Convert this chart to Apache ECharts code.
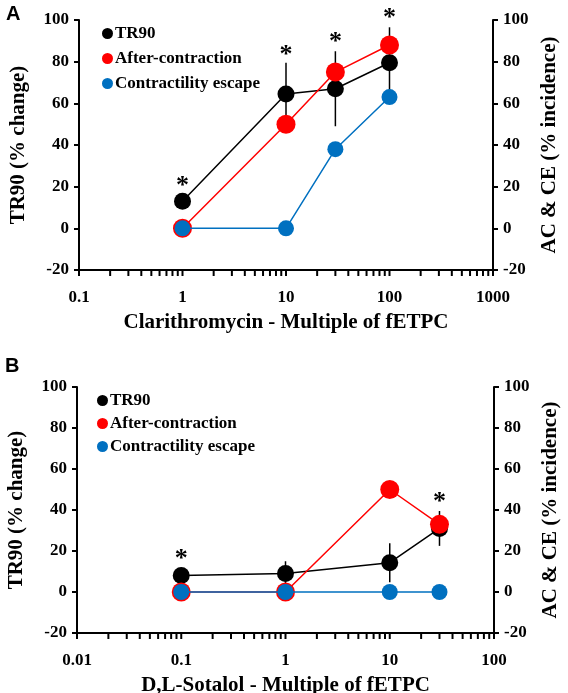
<!DOCTYPE html>
<html>
<head>
<meta charset="utf-8">
<script src="https://cdn.jsdelivr.net/npm/echarts@6/dist/echarts.min.js"></script>
<style>
html,body{margin:0;padding:0;background:#fff;}
#chart{width:568px;height:693px;}
</style>
</head>
<body>
<div id="chart"></div>
<script>
// ---- Data: panel A (Clarithromycin) ----
const concA = [1, 10, 30, 100];
const tr90A = [13, 64.5, 67, 79.5];
const tr90ErrA = [3, 15, 18, 17];
const acA = [0, 50, 75, 88];
const ceA = [0, 0, 38, 63];
const starXA = [1, 10, 30, 100];
const starYA = [20, 83, 89.5, 101];
const xTickLabelsA = ['0.1', '1', '10', '100', '1000'];

// ---- Data: panel B (D,L-Sotalol) ----
const concB = [0.1, 1, 10, 30];
const tr90B = [8, 9, 14.3, 31];
const tr90ErrB = [2, 6, 9.5, 8.5];
const acB = [0, 0, 50, 33];
const ceB = [0, 0, 0, 0];
const starXB = [0.1, 30];
const starYB = [16, 44];
const xTickLabelsB = ['0.01', '0.1', '1', '10', '100'];

const yMin = -20, yMax = 100, yStep = 20;
const minorMultipliers = [1, 2, 3, 4, 5, 6, 7, 8, 9];
const decadesA = [0.1, 1, 10, 100, 1000];
const decadesB = [0.01, 0.1, 1, 10, 100];

const names = ['TR90', 'After-contraction', 'Contractility escape'];
const BLACK = '#000000', RED = '#ff0000', BLUE = '#0070c0';
const SERIF = '"Liberation Serif", "Times New Roman", serif';

function zip(xs, ys) { return xs.map((x, i) => [x, ys[i]]); }
function errData(xs, ys, es) { return xs.map((x, i) => [x, ys[i] - es[i], ys[i] + es[i]]); }
function tickValues(decades) {
  const out = [];
  decades.forEach((d, k) => {
    if (k === decades.length - 1) { out.push(d); return; }
    minorMultipliers.forEach(m => out.push(+(d * m).toPrecision(6)));
  });
  return out;
}

function xAxisCfg(idx, min, max, labels, title) {
  return {
    type: 'log', logBase: 10, gridIndex: idx, min: min, max: max,
    name: title, nameLocation: 'middle', nameGap: 42,
    nameTextStyle: { fontFamily: SERIF, fontWeight: 'bold', fontSize: 21, color: '#000' },
    axisLine: { onZero: false, lineStyle: { color: '#000', width: 2 } },
    axisTick: { show: false },
    axisLabel: {
      fontFamily: SERIF, fontWeight: 'bold', fontSize: 17, color: '#000', margin: 19,
      formatter: (v, i) => labels[i] !== undefined ? labels[i] : ''
    },
    splitLine: { show: false }, minorTick: { show: false }
  };
}
function yAxisCfg(idx, pos, title) {
  return {
    type: 'value', gridIndex: idx, position: pos, min: yMin, max: yMax, interval: yStep,
    name: title, nameLocation: 'middle', nameRotate: 90, nameGap: pos === 'left' ? 50 : 34,
    nameTextStyle: { fontFamily: SERIF, fontWeight: 'bold', fontSize: 21, color: '#000' },
    axisLine: { show: true, onZero: false, lineStyle: { color: '#000', width: 2 } },
    axisTick: { show: true, length: 5, lineStyle: { color: '#000', width: 2 } },
    axisLabel: { fontFamily: SERIF, fontWeight: 'bold', fontSize: 17, color: '#000', margin: 10 },
    splitLine: { show: false }
  };
}

function panelSeries(p, conc, tr90, err, ac, ce, sx, sy) {
  const xi = p, yl = p * 2, yr = p * 2 + 1;
  return [
    { type: 'custom', xAxisIndex: xi, yAxisIndex: yl, z: 2, silent: true,
      data: errData(conc, tr90, err),
      renderItem: (params, api) => {
        const a = api.coord([api.value(0), api.value(1)]);
        const b = api.coord([api.value(0), api.value(2)]);
        return { type: 'line', shape: { x1: a[0], y1: a[1], x2: b[0], y2: b[1] },
          style: { stroke: '#000', lineWidth: 1.5 } };
      } },
    { name: names[0], type: 'line', xAxisIndex: xi, yAxisIndex: yl, z: 3,
      data: zip(conc, tr90), symbol: 'circle', symbolSize: 17, showAllSymbol: true,
      lineStyle: { color: BLACK, width: 1.5 }, itemStyle: { color: BLACK }, animation: false },
    { name: names[1], type: 'line', xAxisIndex: xi, yAxisIndex: yr, z: 4,
      data: zip(conc, ac), symbol: 'circle', symbolSize: 19, showAllSymbol: true,
      lineStyle: { color: RED, width: 1.5 }, itemStyle: { color: RED }, animation: false },
    { name: names[2], type: 'line', xAxisIndex: xi, yAxisIndex: yr, z: 5,
      data: zip(conc, ce), symbol: 'circle', symbolSize: 16, showAllSymbol: true,
      lineStyle: { color: BLUE, width: 1.5 }, itemStyle: { color: BLUE }, animation: false },
    { type: 'custom', xAxisIndex: xi, yAxisIndex: yl, z: 6, silent: true, clip: false,
      data: zip(sx, sy),
      renderItem: (params, api) => {
        const pt = api.coord([api.value(0), api.value(1)]);
        return { type: 'text', x: pt[0], y: pt[1],
          style: { text: '*', fill: '#000', fontFamily: SERIF, fontWeight: 'bold', fontSize: 26,
            align: 'center', verticalAlign: 'middle' } };
      } }
  ];
}

const chart = echarts.init(document.getElementById('chart'), null, { renderer: 'canvas' });
const legendBase = {
  orient: 'vertical', icon: 'circle', itemWidth: 11, itemHeight: 11, selectedMode: false,
  data: names, textStyle: { fontFamily: SERIF, fontWeight: 'bold', fontSize: 17, color: '#000', padding: [0, 0, 0, -3] }
};
const baseGraphic = [
  { type: 'text', left: 6, top: 4, style: { text: 'A', fontFamily: '"Liberation Sans", Arial, sans-serif', fontWeight: 'bold', fontSize: 20, fill: '#000' } },
  { type: 'text', left: 5, top: 356, style: { text: 'B', fontFamily: '"Liberation Sans", Arial, sans-serif', fontWeight: 'bold', fontSize: 20, fill: '#000' } }
];
chart.setOption({
  animation: false,
  backgroundColor: '#fff',
  grid: [
    { left: 79, right: 75, top: 20, height: 250, outerBoundsMode: 'none', containLabel: false },
    { left: 77, right: 74, top: 387, height: 246, outerBoundsMode: 'none', containLabel: false }
  ],
  xAxis: [
    xAxisCfg(0, 0.1, 1000, xTickLabelsA, 'Clarithromycin - Multiple of fETPC'),
    xAxisCfg(1, 0.01, 100, xTickLabelsB, 'D,L-Sotalol - Multiple of fETPC')
  ],
  yAxis: [
    yAxisCfg(0, 'left', 'TR90 (% change)'),
    yAxisCfg(0, 'right', 'AC & CE (% incidence)'),
    yAxisCfg(1, 'left', 'TR90 (% change)'),
    yAxisCfg(1, 'right', 'AC & CE (% incidence)')
  ],
  legend: [
    Object.assign({}, legendBase, { left: 97, top: 20, itemGap: 8 }),
    Object.assign({}, legendBase, { left: 92, top: 387, itemGap: 6 })
  ],
  graphic: baseGraphic,
  series: [].concat(
    panelSeries(0, concA, tr90A, tr90ErrA, acA, ceA, starXA, starYA),
    panelSeries(1, concB, tr90B, tr90ErrB, acB, ceB, starXB, starYB)
  )
});

// x-axis tick marks (decades and 2..9 minor ticks), placed through the axis scale
const tickGraphics = [];
[[0, tickValues(decadesA)], [1, tickValues(decadesB)]].forEach(([g, vals]) => {
  vals.forEach(v => {
    const pt = chart.convertToPixel({ xAxisIndex: g, yAxisIndex: g * 2 }, [v, yMin]);
    if (!pt || isNaN(pt[0])) return;
    tickGraphics.push({ type: 'rect', z: 100, silent: true,
      shape: { x: pt[0] - 1, y: pt[1], width: 2, height: 6 },
      style: { fill: '#000' } });
  });
});
chart.setOption({ graphic: baseGraphic.concat(tickGraphics) });
</script>
</body>
</html>
